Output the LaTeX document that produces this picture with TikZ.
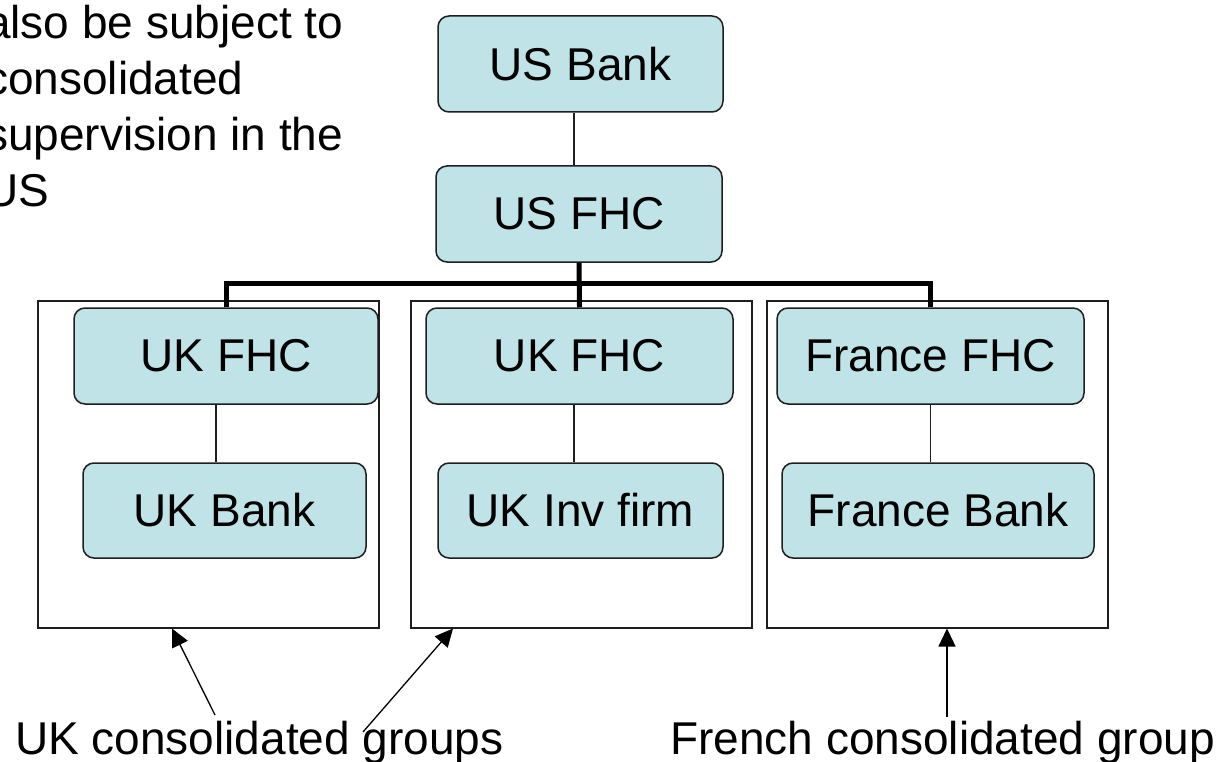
\documentclass[tikz,border=0pt]{standalone}
\usepackage{fontspec}
\setmainfont{Liberation Sans}
\usetikzlibrary{arrows.meta}
\definecolor{boxfill}{RGB}{191,227,230}
\definecolor{edge}{RGB}{30,30,30}
\begin{document}
\begin{tikzpicture}[x=1pt,y=-1pt,
  entity/.style={draw=edge,line width=1.5pt,fill=boxfill,rounded corners=11pt,
    inner sep=0pt,minimum height=96pt,font=\fontsize{46}{55}\selectfont},
  groupbox/.style={draw=edge,line width=1.5pt,inner sep=0pt,anchor=north west,
    minimum width=341pt,minimum height=327pt},
  link/.style={draw=edge,line width=1.5pt},
  bus/.style={draw=black,line width=5pt},
  pointer/.style={draw=black,line width=1.3pt,-{Triangle[length=18pt,width=17pt]}},
  caption/.style={inner sep=0pt,font=\fontsize{46}{56}\selectfont}]
\clip (0,0) rectangle (1225,762);
\fill[white] (0,0) rectangle (1225,762);

% consolidated groups
\node[groupbox] (g1) at (37,300) {};
\node[groupbox] (g2) at (410,300) {};
\node[groupbox] (g3) at (766,300) {};

% entities
\node[entity,minimum width=285pt] (usbank) at (580.5,64) {US Bank};
\node[entity,minimum width=286pt] (usfhc) at (579,214) {US FHC};
\node[entity,minimum width=304pt] (ukfhcA) at (226,356) {UK FHC};
\node[entity,minimum width=283pt,minimum height=95pt] (ukbank) at (224.5,510.5) {UK Bank};
\node[entity,minimum width=307pt] (ukfhcB) at (579.5,356) {UK FHC};
\node[entity,minimum width=285pt,minimum height=95pt] (ukinv) at (580.5,510.5) {UK Inv firm};
\node[entity,minimum width=307pt] (frfhc) at (930.5,356) {France FHC};
\node[entity,minimum width=312pt,minimum height=95pt] (frbank) at (938,510.5) {France Bank};

% ownership links
\draw[link] ([xshift=-6.5pt]usbank.south) -- ([xshift=-6.5pt]usbank.south |- usfhc.north);
\draw[link] ([xshift=-10pt]ukfhcA.south) -- ([xshift=-10pt]ukfhcA.south |- ukbank.north);
\draw[link] ([xshift=-5.5pt]ukfhcB.south) -- ([xshift=-5.5pt]ukfhcB.south |- ukinv.north);
\draw[link] (frfhc.south) -- (frfhc.south |- frbank.north);

% holding bus
\coordinate (busy) at (0,283);
\draw[bus] (usfhc.south) -- (ukfhcB.north);
\draw[bus] (ukfhcA.north) -- (ukfhcA.north |- busy) -- (frfhc.north |- busy) -- (frfhc.north);

% text
\node[caption,anchor=north west,align=left] (note) at (-15,4.5)
  {also be subject to\\consolidated\\supervision in the\\US};
\node[caption,anchor=base west] (uklab) at (15,754) {UK consolidated groups};
\node[caption,anchor=base west] (frlab) at (670,754) {French consolidated group};

% pointers
\coordinate (p1) at (215,715);
\coordinate (p2) at (363,732);
\coordinate (p3) at (947,717);
\draw[pointer] (p1) -- ([xshift=135pt]g1.south west);
\draw[pointer] (p2) -- ([xshift=43pt]g2.south west);
\draw[pointer] (p3) -- ([xshift=181pt]g3.south west);
\end{tikzpicture}
\end{document}
